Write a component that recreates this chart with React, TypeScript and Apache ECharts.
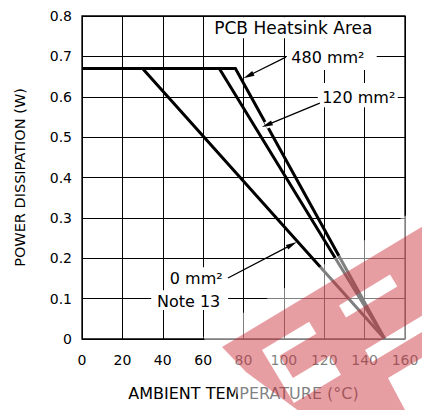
import React, { useEffect, useRef } from "react";
import * as echarts from "echarts";

// ---- data ----
const temp0mm = [0, 30, 150];
const power0mm = [0.67, 0.67, 0];
const temp120mm = [0, 68, 150];
const power120mm = [0.67, 0.67, 0];
const temp480mm = [0, 76, 150];
const power480mm = [0.67, 0.67, 0];

const xAxisName = "AMBIENT TEMPERATURE (°C)";
const yAxisName = "POWER DISSIPATION (W)";

// annotation texts and their anchors in data space [temp, power]
const labelTexts = ["PCB Heatsink Area", "480 mm²", "120 mm²", "0 mm²", "Note 13"];
const labelAnchors = [
  [104.7, 0.770],
  [121.8, 0.698],
  [137.1, 0.597],
  [56.6, 0.151],
  [52.8, 0.094],
];
// white boxes behind labels (data space: x1, y1, x2, y2)
const labelBoxes = [
  [62.4, 0.797, 157.4, 0.745],
  [101.5, 0.745, 146.0, 0.666],
  [116.8, 0.634, 156.4, 0.574],
  [41.7, 0.178, 71.8, 0.121],
  [34.3, 0.121, 72.4, 0.072],
];
// arrows: tail (x, y) -> tip (x, y), data space
const arrows = [
  [101.0, 0.698, 80.0, 0.646],
  [117.8, 0.584, 89.1, 0.525],
  [72.3, 0.151, 106.4, 0.240],
];

const FONT = "DejaVu Sans";

// watermark (an overlay picture, pixel space)
const WM_WHITE = "M203 337 L440 195 L440 420 L253 420 Z";
const WM_RED =
  "M222 347 L246 372 L311 420 L440 420 L440 216 Z " +
  "M339 305.5 L390 274.6 L397.3 286.6 L346 317.5 Z " +
  "M262 350 L309.1 321.7 L316.3 333.7 L279.5 355.8 L292.9 378.1 L329.7 356 L341 374.8 L293.9 403.1 Z " +
  "M365 350 L425 314 L432 326 L372 362 Z " +
  "M388 378 L425 356 L430 410 L405 410 Z";

let shapesRegistered = false;
function registerShapes() {
  if (shapesRegistered) return;
  echarts.graphic.registerShape("wmWhite", echarts.graphic.extendPath(WM_WHITE, {}));
  echarts.graphic.registerShape("wmRed", echarts.graphic.extendPath(WM_RED, {}));
  shapesRegistered = true;
}

export default function App() {
  const ref = useRef<HTMLDivElement>(null);

  useEffect(() => {
    registerShapes();
    const chart = echarts.init(ref.current!, null, { renderer: "svg" });
    const pair = (xs: number[], ys: number[]) => xs.map((x, i) => [x, ys[i]]);
    const lineSeries = (name: string, xs: number[], ys: number[]) => ({
      type: "line",
      name,
      data: pair(xs, ys),
      symbol: "none",
      silent: true,
      z: 3,
      lineStyle: { color: "#000", width: 3, cap: "butt", join: "miter" },
    });

    chart.setOption({
      animation: false,
      grid: {
        left: 82,
        top: 16,
        width: 323,
        height: 323,
        show: true,
        borderColor: "#000",
        borderWidth: 1.3,
        backgroundColor: "transparent",
      },
      xAxis: {
        type: "value",
        min: 0,
        max: 160,
        interval: 20,
        name: xAxisName,
        nameLocation: "middle",
        nameGap: 46,
        nameTextStyle: { fontFamily: FONT, fontSize: 16, color: "#000" },
        axisLine: { show: false },
        axisTick: { show: false },
        axisLabel: { fontFamily: FONT, fontSize: 14, color: "#000", margin: 14 },
        splitLine: { show: true, lineStyle: { color: "#000", width: 1 } },
      },
      yAxis: {
        type: "value",
        min: 0,
        max: 0.8,
        interval: 0.1,
        name: yAxisName,
        nameLocation: "middle",
        nameRotate: 90,
        nameGap: 55,
        nameTextStyle: { fontFamily: FONT, fontSize: 14.5, color: "#000" },
        axisLine: { show: false },
        axisTick: { show: false },
        axisLabel: { fontFamily: FONT, fontSize: 14, color: "#000", margin: 10 },
        splitLine: { show: true, lineStyle: { color: "#000", width: 1 } },
      },
      series: [
        lineSeries("0 mm²", temp0mm, power0mm),
        lineSeries("120 mm²", temp120mm, power120mm),
        lineSeries("480 mm²", temp480mm, power480mm),
      ],
    });

    const px = (p: number[]) => chart.convertToPixel({ gridIndex: 0 }, p) as number[];
    const graphics: any[] = [];

    labelBoxes.forEach((b) => {
      const a = px([b[0], b[1]]);
      const c = px([b[2], b[3]]);
      graphics.push({
        type: "rect",
        z: 1,
        silent: true,
        shape: { x: a[0], y: a[1], width: c[0] - a[0], height: c[1] - a[1] },
        style: { fill: "#fff" },
      });
    });

    labelTexts.forEach((t, i) => {
      const p = px(labelAnchors[i]);
      graphics.push({
        type: "text",
        z: 5,
        silent: true,
        x: p[0],
        y: p[1],
        style: {
          text: t,
          fontFamily: FONT,
          fontSize: i === 0 ? 17 : 16,
          fill: "#000",
          align: "center",
          verticalAlign: "middle",
        },
      });
    });

    arrows.forEach((a, i) => {
      const t = px([a[0], a[1]]);
      const h = px([a[2], a[3]]);
      const dx = h[0] - t[0];
      const dy = h[1] - t[1];
      const len = Math.hypot(dx, dy);
      const ux = dx / len;
      const uy = dy / len;
      const nx = -uy;
      const ny = ux;
      const L = 11;
      const W = 2.6;
      if (i === 1) {
        // white break in the 480 mm² curve where this arrow passes through
        graphics.push({
          type: "line",
          z: 8,
          silent: true,
          shape: {
            x1: h[0] - ux * 4,
            y1: h[1] - uy * 4,
            x2: h[0] - ux * 17,
            y2: h[1] - uy * 17,
          },
          style: { stroke: "#fff", lineWidth: 7 },
        });
      }
      graphics.push({
        type: "line",
        z: 10,
        silent: true,
        shape: { x1: t[0], y1: t[1], x2: h[0] - ux * L * 0.7, y2: h[1] - uy * L * 0.7 },
        style: { stroke: "#000", lineWidth: 1.3 },
      });
      graphics.push({
        type: "polygon",
        z: 10,
        silent: true,
        shape: {
          points: [
            [h[0], h[1]],
            [h[0] - ux * L + nx * W, h[1] - uy * L + ny * W],
            [h[0] - ux * L - nx * W, h[1] - uy * L - ny * W],
          ],
        },
        style: { fill: "#000" },
      });
    });

    graphics.push({
      type: "wmWhite",
      z: 30,
      silent: true,
      x: 0,
      y: 0,
      style: { fill: "#ffffff", opacity: 0.5 },
    });
    graphics.push({
      type: "wmRed",
      z: 31,
      silent: true,
      x: 0,
      y: 0,
      style: { fill: "#c81f2a", opacity: 0.43 },
    });

    chart.setOption({ graphic: graphics });

    return () => chart.dispose();
  }, []);

  return (
    <div
      ref={ref}
      style={{ position: "fixed", left: 0, top: 0, width: 422, height: 410, background: "#fff" }}
    />
  );
}
